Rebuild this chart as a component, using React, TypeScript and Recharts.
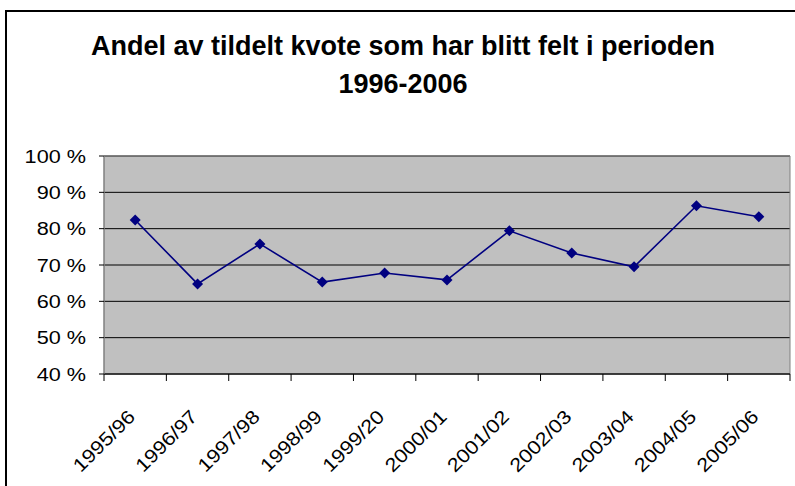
import React from "react";
import {
  LineChart,
  Line,
  XAxis,
  YAxis,
  CartesianGrid,
  ReferenceArea,
} from "recharts";

// Sesonger og andel felt (prosent)
const categories = [
  "1995/96",
  "1996/97",
  "1997/98",
  "1998/99",
  "1999/20",
  "2000/01",
  "2001/02",
  "2002/03",
  "2003/04",
  "2004/05",
  "2005/06",
];
const shares = [82.4, 64.8, 75.8, 65.3, 67.8, 65.9, 79.4, 73.3, 69.5, 86.3, 83.3];
const yTicks = [40, 50, 60, 70, 80, 90, 100];
const titleLines = ["Andel av tildelt kvote som har blitt felt i perioden", "1996-2006"];

const CHART_W = 795;
const CHART_H = 486;
const MARGIN = { top: 156, right: 5, bottom: 0, left: 24 };
const Y_AXIS_W = 80;
const X_AXIS_H = 112;
const PLOT_W = CHART_W - MARGIN.left - MARGIN.right - Y_AXIS_W;
const HALF_BAND = PLOT_W / categories.length / 2;

const FONT = "Arial, 'Liberation Sans', sans-serif";
// teksten i originalen er litt strukket i bredden
const STRETCH = 1.14;

const data = categories.map((name, i) => ({ pos: i + 0.5, name, share: shares[i] }));
const xTicks = [...categories.map((_, i) => i), categories.length];

const CategoryTick = (props: any) => {
  const { x, y, payload } = props;
  const idx = payload.value;
  if (idx >= categories.length) return null;
  const ax = x + HALF_BAND + 1;
  const ay = y + 37;
  return (
    <text
      x={0}
      y={0}
      textAnchor="end"
      fontFamily={FONT}
      fontSize={19}
      fill="#000"
      transform={`translate(${ax} ${ay}) rotate(-45) scale(${STRETCH} 1)`}
    >
      {categories[idx]}
    </text>
  );
};

const PercentTick = (props: any) => {
  const { x, y, payload } = props;
  return (
    <text
      x={0}
      y={0}
      dy="0.355em"
      textAnchor="end"
      fontFamily={FONT}
      fontSize={19}
      fill="#000"
      transform={`translate(${x} ${y}) scale(${STRETCH} 1)`}
    >
      {`${payload.value} %`}
    </text>
  );
};

const Diamond = (props: any) => {
  const { cx, cy } = props;
  const r = 5.5;
  return (
    <polygon
      points={`${cx},${cy - r} ${cx + r},${cy} ${cx},${cy + r} ${cx - r},${cy}`}
      fill="#000080"
    />
  );
};

const App = () => {
  return (
    <div style={{ position: "absolute", left: 0, top: 0, width: CHART_W, height: CHART_H, background: "#fff" }}>
      {/* ramme */}
      <div
        style={{
          position: "absolute",
          left: 5,
          top: 10,
          width: CHART_W,
          height: CHART_H,
          borderTop: "2px solid #000",
          borderLeft: "2px solid #000",
        }}
      />
      <LineChart width={CHART_W} height={CHART_H} data={data} margin={MARGIN}>
        <CartesianGrid vertical={false} fill="#C0C0C0" stroke="#000" fillOpacity={1} />
        <ReferenceArea x1={0} x2={categories.length} y1={40} y2={100} fill="none" stroke="#808080" />
        <XAxis
          dataKey="pos"
          type="number"
          domain={[0, categories.length]}
          ticks={xTicks}
          interval={0}
          height={X_AXIS_H}
          tickSize={7}
          tickMargin={0}
          axisLine={{ stroke: "#000" }}
          tickLine={{ stroke: "#000" }}
          tick={<CategoryTick />}
        />
        <YAxis
          domain={[40, 100]}
          ticks={yTicks}
          interval={0}
          width={Y_AXIS_W}
          tickSize={5}
          tickMargin={13}
          axisLine={{ stroke: "#808080" }}
          tickLine={{ stroke: "#000" }}
          tick={<PercentTick />}
        />
        <Line
          type="linear"
          dataKey="share"
          stroke="#000080"
          strokeWidth={1.6}
          dot={<Diamond />}
          activeDot={false}
          isAnimationActive={false}
        />
      </LineChart>
      <svg
        width={CHART_W}
        height={120}
        style={{ position: "absolute", left: 0, top: 0, pointerEvents: "none" }}
      >
        {titleLines.map((t, i) => (
          <text
            key={t}
            x={403}
            y={55 + i * 38}
            textAnchor="middle"
            fontFamily={FONT}
            fontWeight="bold"
            fontSize={27}
            fill="#000"
          >
            {t}
          </text>
        ))}
      </svg>
    </div>
  );
};

export default App;
